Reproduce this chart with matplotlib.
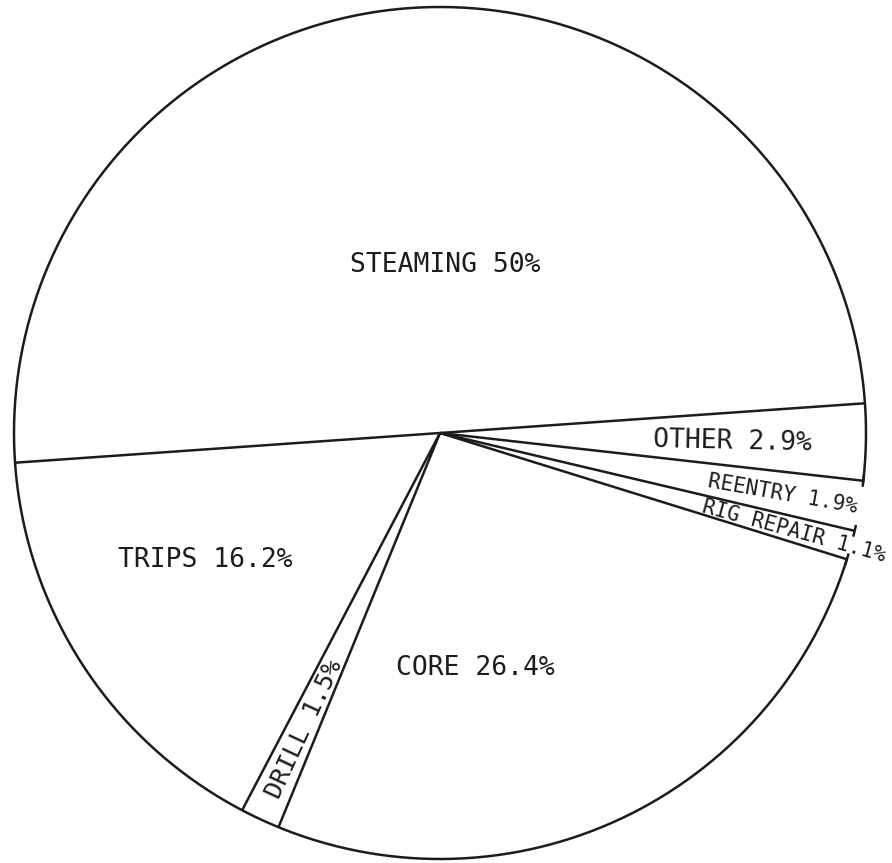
import numpy as np
import matplotlib
matplotlib.use("Agg")
import matplotlib.pyplot as plt

# Share of time by operation (percent)
categories = ["STEAMING", "TRIPS", "DRILL", "CORE", "RIG REPAIR", "REENTRY", "OTHER"]
shares = [50, 16.2, 1.5, 26.4, 1.1, 1.9, 2.9]
pct_labels = ["50%", "16.2%", "1.5%", "26.4%", "1.1%", "1.9%", "2.9%"]

W, H = 892, 863
INK = "#1c1c1c"
FONT = "DejaVu Sans Mono"

fig = plt.figure(figsize=(W / 100, H / 100), dpi=100)
ax = fig.add_axes([0, 0, 1, 1])

cx, cy, R = 440.0, H - 433.0, 426.0

wedges, _ = ax.pie(shares, startangle=4, counterclock=True, radius=R,
                   center=(cx, cy), colors=["white"] * len(shares),
                   wedgeprops=dict(linewidth=0, edgecolor="none"))
ax.set_xlim(0, W)
ax.set_ylim(0, H)
ax.set_aspect("equal")
ax.axis("off")

LW = 1.8


def pol(r, ang):
    a = np.deg2rad(ang)
    return cx + r * np.cos(a), cy + r * np.sin(a)


# radial boundaries between slices
for w in wedges:
    x1, y1 = pol(R, w.theta1)
    ax.plot([cx, x1], [cy, y1], color=INK, lw=LW, solid_capstyle="butt")

# outer rim, left open across the two narrow slices on the right
gap_start = wedges[4].theta1          # core / rig repair
gap_end = wedges[5].theta2            # reentry / other
t = np.linspace(gap_end, gap_start + 360, 720)
xs, ys = pol(R, t)
ax.plot(xs, ys, color=INK, lw=LW)

# small end ticks where the rim is open
for ang in (wedges[4].theta1, wedges[4].theta2, wedges[5].theta2):
    a = np.deg2rad(ang)
    px, py = -np.sin(a), np.cos(a)
    ex, ey = pol(R, ang)
    ax.plot([ex - 6 * px, ex + 6 * px], [ey - 6 * py, ey + 6 * py],
            color=INK, lw=LW, solid_capstyle="butt")


def label(i):
    return f"{categories[i]} {pct_labels[i]}"


# horizontal labels inside the wide slices
flat = {0: (445, H - 265), 1: (205, H - 560), 3: (475, H - 668)}
for i, (x, y) in flat.items():
    ax.text(x, y, label(i), fontsize=19, family=FONT, color=INK,
            ha="center", va="center")


def radial_label(i, r0, outward=True, size=19):
    w = wedges[i]
    mid = 0.5 * (w.theta1 + w.theta2)
    rot = (mid if outward else mid + 180) % 360
    x0, y0 = pol(r0, mid)
    cap = 0.729 * size * 100 / 72
    p = np.deg2rad(rot + 90)
    x0 -= 0.5 * cap * np.cos(p)
    y0 -= 0.5 * cap * np.sin(p)
    ax.text(x0, y0, label(i), fontsize=size, family=FONT, color=INK,
            rotation=rot, rotation_mode="anchor", ha="left", va="baseline")


radial_label(2, 0.94 * R, outward=False, size=18)
radial_label(6, 0.50 * R, size=19)
radial_label(5, 0.64 * R, size=15)
radial_label(4, 0.64 * R, size=15)

fig.savefig("out.png", dpi=100, facecolor="white")
